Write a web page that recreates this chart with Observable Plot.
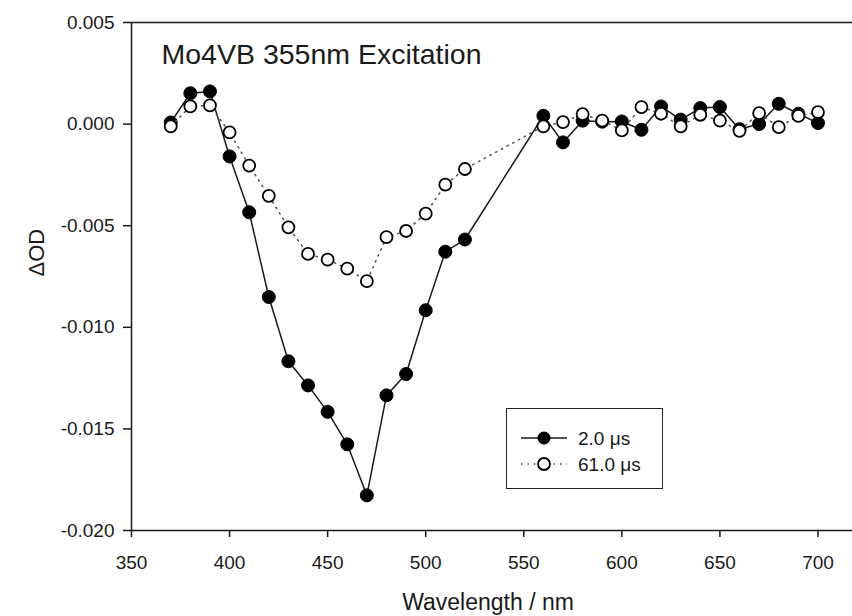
<!DOCTYPE html>
<html>
<head>
<meta charset="utf-8">
<script src="https://cdn.jsdelivr.net/npm/d3@7"></script>
<script src="https://cdn.jsdelivr.net/npm/@observablehq/plot@0.6"></script>
<style>
  html, body { margin: 0; padding: 0; background: #fff; }
  #wrap { position: relative; width: 852px; height: 616px; font-family: "Liberation Sans", Arial, sans-serif; }
  #legend { position: absolute; left: 506px; top: 408px; width: 155px; height: 79px; border: 1.5px solid #222; background: #fff; box-sizing: content-box; }
  #legend svg { position: absolute; left: 0; top: 0; }
</style>
</head>
<body>
<div id="wrap"></div>
<script>
// Wavelengths (nm)
const wavelengths = [370, 380, 390, 400, 410, 420, 430, 440, 450, 460, 470, 480, 490, 500, 510, 520,
  560, 570, 580, 590, 600, 610, 620, 630, 640, 650, 660, 670, 680, 690, 700];
// ΔOD at 2.0 µs (filled circles)
const od2us = [0.00008, 0.00152, 0.00161, -0.00159, -0.00434, -0.00851, -0.01167, -0.01286, -0.01416, -0.01576, -0.01827, -0.01335, -0.01230, -0.00916, -0.00628, -0.00568,
  0.00041, -0.00090, 0.00017, 0.00012, 0.00013, -0.00028, 0.00087, 0.00022, 0.00079, 0.00084, -0.00025, 0.00000, 0.00100, 0.00051, 0.00005];
// ΔOD at 61.0 µs (open circles)
const od61us = [-0.00011, 0.00087, 0.00092, -0.00041, -0.00204, -0.00353, -0.00508, -0.00639, -0.00667, -0.00711, -0.00773, -0.00556, -0.00526, -0.00441, -0.00298, -0.00221,
  -0.00011, 0.00010, 0.00049, 0.00017, -0.00031, 0.00084, 0.00051, -0.00011, 0.00046, 0.00017, -0.00033, 0.00054, -0.00015, 0.00040, 0.00059];
const xTicks = [350, 400, 450, 500, 550, 600, 650, 700];
const yTicks = [0.005, 0.000, -0.005, -0.010, -0.015, -0.020];
const seriesLabels = ["2.0 μs", "61.0 μs"];
const titleText = "Mo4VB 355nm Excitation";
const xLabel = "Wavelength / nm";
const yLabel = "ΔOD";

const s1 = wavelengths.map((w, i) => ({w, v: od2us[i]}));
const s2 = wavelengths.map((w, i) => ({w, v: od61us[i]}));

const fmt = v => (v < -1e-9 ? "-" : "") + Math.abs(v).toFixed(3);
const ink = "#1a1a1a";

const chart = Plot.plot({
  width: 852,
  height: 616,
  marginLeft: 131,
  marginRight: 0,
  marginTop: 22,
  marginBottom: 86,
  style: {fontFamily: "'Liberation Sans', Arial, sans-serif", background: "white", color: ink},
  x: {domain: [350, 717.6]},
  y: {domain: [-0.020, 0.005]},
  marks: [
    Plot.ruleY([0.005], {stroke: ink, strokeWidth: 1.5}),
    Plot.ruleY([-0.020], {stroke: ink, strokeWidth: 1.5}),
    Plot.ruleX([350], {stroke: ink, strokeWidth: 1.5}),
    Plot.axisX({ticks: xTicks, tickSize: 7, tickPadding: 17.5, fontSize: 19, label: null, stroke: ink, strokeWidth: 1.5, fill: ink}),
    Plot.axisY({ticks: yTicks, tickSize: 8, tickPadding: 9, fontSize: 19, label: null, tickFormat: fmt, stroke: ink, strokeWidth: 1.5, fill: ink}),
    Plot.text([xLabel], {frameAnchor: "bottom", dx: -4, dy: 72, fontSize: 23, fill: ink, lineAnchor: "middle"}),
    Plot.text([yLabel], {frameAnchor: "left", dx: -95, rotate: -90, fontSize: 22, fill: ink, lineAnchor: "middle"}),
    Plot.text([titleText], {frameAnchor: "top-left", dx: 30, dy: 21, fontSize: 28.5, fill: ink, textAnchor: "start", lineAnchor: "top"}),
    Plot.line(s1, {x: "w", y: "v", stroke: ink, strokeWidth: 1.5}),
    Plot.dot(s1, {x: "w", y: "v", r: 6.5, fill: "black", stroke: "black", strokeWidth: 1}),
    Plot.line(s2, {x: "w", y: "v", stroke: "#555", strokeWidth: 1.5, strokeDasharray: "1.5,5"}),
    Plot.dot(s2, {x: "w", y: "v", r: 6, fill: "white", stroke: "black", strokeWidth: 1.8})
  ]
});

const wrap = document.getElementById("wrap");
wrap.appendChild(chart);

const legend = document.createElement("div");
legend.id = "legend";
legend.innerHTML = `
<svg width="155" height="79" xmlns="http://www.w3.org/2000/svg" font-family="'Liberation Sans', Arial, sans-serif">
  <line x1="14" x2="60" y1="29" y2="29" stroke="${ink}" stroke-width="1.5"/>
  <circle cx="37" cy="29" r="6.5" fill="black"/>
  <text x="71" y="29" dy="0.35em" font-size="19" fill="${ink}">${seriesLabels[0]}</text>
  <line x1="14" x2="60" y1="55" y2="55" stroke="#555" stroke-width="1.5" stroke-dasharray="1.5,5"/>
  <circle cx="37" cy="55" r="6" fill="white" stroke="black" stroke-width="1.8"/>
  <text x="71" y="55" dy="0.35em" font-size="19" fill="${ink}">${seriesLabels[1]}</text>
</svg>`;
wrap.appendChild(legend);
</script>
</body>
</html>
